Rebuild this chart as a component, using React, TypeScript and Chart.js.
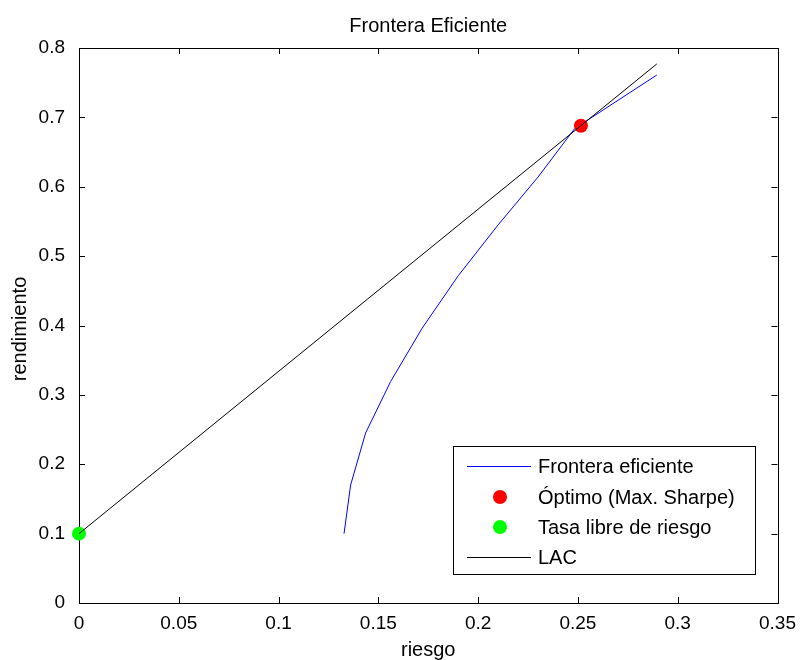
import { useEffect, useRef } from "react";
import { Chart, registerables } from "chart.js";

Chart.register(...registerables);

// ---- data ----
const frontierRisk = [0.1328, 0.1361, 0.1436, 0.1561, 0.1719, 0.1901, 0.2100, 0.2300, 0.2484, 0.2895];
const frontierReturn = [0.100, 0.170, 0.245, 0.319, 0.396, 0.472, 0.545, 0.614, 0.684, 0.761];
const lacRisk = [0, 0.2895];
const lacReturn = [0.1, 0.777];
const optimalRisk = [0.2515];
const optimalReturn = [0.688];
const riskFreeRisk = [0];
const riskFreeReturn = [0.1];
const xTicks = [0, 0.05, 0.1, 0.15, 0.2, 0.25, 0.3, 0.35];
const yTicks = [0, 0.1, 0.2, 0.3, 0.4, 0.5, 0.6, 0.7, 0.8];
const legendLabels = ["Frontera eficiente", "Óptimo (Max. Sharpe)", "Tasa libre de riesgo", "LAC"];
const titleText = "Frontera Eficiente";
const xLabel = "riesgo";
const yLabel = "rendimiento";

const FONT = '"Liberation Sans", Arial, sans-serif';

const toPts = (xs: number[], ys: number[]) => xs.map((x, i) => ({ x, y: ys[i] }));
const fmt = (v: number) => String(Number(v.toFixed(2)));

const boxPlugin = {
  id: "matlabBox",
  beforeDatasetsDraw(chart: any) {
    const { ctx, chartArea, scales } = chart;
    const { left, right, top, bottom } = chartArea;
    ctx.save();
    ctx.strokeStyle = "#000";
    ctx.lineWidth = 1;
    ctx.strokeRect(Math.round(left) + 0.5, Math.round(top) + 0.5, Math.round(right - left), Math.round(bottom - top));
    const tl = 6;
    ctx.beginPath();
    xTicks.forEach((v) => {
      const px = Math.round(scales.x.getPixelForValue(v)) + 0.5;
      ctx.moveTo(px, bottom);
      ctx.lineTo(px, bottom - tl);
      ctx.moveTo(px, top);
      ctx.lineTo(px, top + tl);
    });
    yTicks.forEach((v) => {
      const py = Math.round(scales.y.getPixelForValue(v)) + 0.5;
      ctx.moveTo(left, py);
      ctx.lineTo(left + tl, py);
      ctx.moveTo(right, py);
      ctx.lineTo(right - tl, py);
    });
    ctx.stroke();

    // title and axis labels
    ctx.fillStyle = "#000";
    ctx.font = `20px ${FONT}`;
    ctx.textAlign = "center";
    ctx.textBaseline = "middle";
    ctx.fillText(titleText, (left + right) / 2, 26);
    ctx.textBaseline = "alphabetic";
    ctx.fillText(xLabel, (left + right) / 2, 656);
    ctx.save();
    ctx.translate(26, 329);
    ctx.rotate(-Math.PI / 2);
    ctx.fillText(yLabel, 0, 0);
    ctx.restore();
    ctx.restore();
  },
  afterDatasetsDraw(chart: any) {
    const { ctx } = chart;
    ctx.save();
    const bx = 453.5, by = 446.5, bw = 302, bh = 128;
    ctx.fillStyle = "#fff";
    ctx.fillRect(bx, by, bw, bh);
    ctx.strokeStyle = "#000";
    ctx.lineWidth = 1;
    ctx.strokeRect(bx, by, bw, bh);
    const rows = [466, 497, 527, 557];
    ctx.font = `20px ${FONT}`;
    ctx.textAlign = "left";
    ctx.textBaseline = "middle";
    legendLabels.forEach((lab, i) => {
      const yy = rows[i];
      if (i === 0 || i === 3) {
        ctx.strokeStyle = i === 0 ? "#0000ff" : "#000";
        ctx.beginPath();
        ctx.moveTo(467, yy + 0.5);
        ctx.lineTo(531, yy + 0.5);
        ctx.stroke();
      } else {
        ctx.fillStyle = i === 1 ? "#ff0000" : "#00ff00";
        ctx.beginPath();
        ctx.arc(500, yy, 7, 0, Math.PI * 2);
        ctx.fill();
      }
      ctx.fillStyle = "#000";
      ctx.fillText(lab, 538, yy + 1);
    });
    ctx.restore();
  },
};

export default function App() {
  const ref = useRef<HTMLCanvasElement>(null);
  useEffect(() => {
    document.body.style.margin = "0";
    const chart = new Chart(ref.current as HTMLCanvasElement, {
      type: "scatter",
      data: {
        datasets: [
          {
            label: legendLabels[0],
            data: toPts(frontierRisk, frontierReturn),
            showLine: true,
            borderColor: "#0000ff",
            borderWidth: 1,
            pointRadius: 0,
            order: 3,
          },
          {
            label: legendLabels[1],
            data: toPts(optimalRisk, optimalReturn),
            backgroundColor: "#ff0000",
            borderColor: "#ff0000",
            pointRadius: 7,
            borderWidth: 0,
            order: 2,
          },
          {
            label: legendLabels[2],
            data: toPts(riskFreeRisk, riskFreeReturn),
            backgroundColor: "#00ff00",
            borderColor: "#00ff00",
            pointRadius: 7,
            borderWidth: 0,
            order: 1,
          },
          {
            label: legendLabels[3],
            data: toPts(lacRisk, lacReturn),
            showLine: true,
            borderColor: "#000000",
            borderWidth: 1,
            pointRadius: 0,
            order: 0,
          },
        ] as any,
      },
      options: {
        responsive: false,
        animation: false,
        clip: false as any,
        layout: { padding: { top: 48, right: 25, left: 0, bottom: 0 } },
        plugins: {
          legend: { display: false },
          title: { display: false },
          tooltip: { enabled: false },
        },
        scales: {
          x: {
            type: "linear",
            min: 0,
            max: 0.35,
            grid: { display: false, drawTicks: false },
            border: { display: false },
            afterBuildTicks: (s: any) => {
              s.ticks = xTicks.map((v) => ({ value: v }));
            },
            afterFit: (s: any) => {
              s.height = 57;
            },
            ticks: {
              autoSkip: false,
              maxRotation: 0,
              padding: 9,
              color: "#000",
              font: { family: FONT, size: 19 },
              callback: (v: any) => fmt(Number(v)),
            },
          },
          y: {
            type: "linear",
            min: 0,
            max: 0.8,
            grid: { display: false, drawTicks: false },
            border: { display: false },
            afterBuildTicks: (s: any) => {
              s.ticks = yTicks.map((v) => ({ value: v }));
            },
            afterFit: (s: any) => {
              s.width = 79;
            },
            ticks: {
              autoSkip: false,
              padding: 14,
              color: "#000",
              font: { family: FONT, size: 19 },
              callback: (v: any) => fmt(Number(v)),
            },
          },
        },
      },
      plugins: [boxPlugin],
    });
    return () => chart.destroy();
  }, []);
  return (
    <div style={{ width: 805, height: 660 }}>
      <canvas ref={ref} width={805} height={660} />
    </div>
  );
}
